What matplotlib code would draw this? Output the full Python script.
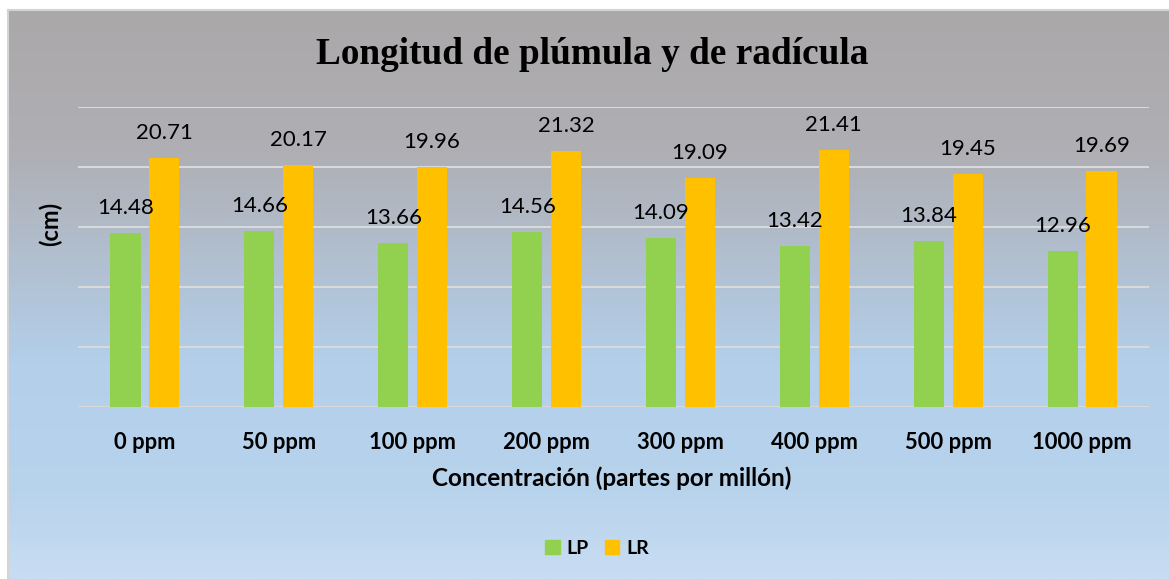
import numpy as np
import matplotlib.pyplot as plt
from matplotlib.colors import LinearSegmentedColormap
from matplotlib.patches import Patch

# data
categories = ["0 ppm", "50 ppm", "100 ppm", "200 ppm", "300 ppm", "400 ppm", "500 ppm", "1000 ppm"]
lp = [14.48, 14.66, 13.66, 14.56, 14.09, 13.42, 13.84, 12.96]
lr = [20.71, 20.17, 19.96, 21.32, 19.09, 21.41, 19.45, 19.69]

W, H = 1169, 579
fig = plt.figure(figsize=(W / 100, H / 100), dpi=100, facecolor="white")

# gradient chart background (gray on top -> light blue at bottom)
bg = fig.add_axes([8 / W, 0, 1 - 8 / W, (H - 10) / H])
grad = LinearSegmentedColormap.from_list("bg", [
    (0.0, "#aba8a9"),
    (0.25, "#afafb4"),
    (0.62, "#b3cfea"),
    (0.85, "#b8d3ec"),
    (1.0, "#c8ddf2"),
])
bg.imshow(np.linspace(0, 1, 256).reshape(-1, 1), aspect="auto", cmap=grad,
          extent=[0, 1, 0, 1], origin="upper")
bg.set_xticks([])
bg.set_yticks([])
for s in ["top", "left"]:
    bg.spines[s].set_color("#d4d4d4")
    bg.spines[s].set_linewidth(1.5)
for s in ["bottom", "right"]:
    bg.spines[s].set_visible(False)

# main axes
ax = fig.add_axes([78 / W, (H - 407) / H, 1071 / W, 300 / H])
ax.patch.set_alpha(0)
x = np.arange(len(categories))
bw = 0.225
off = 0.145
green = "#92d050"
orange = "#ffc000"
ax.bar(x - off, lp, bw, color=green, zorder=3)
ax.bar(x + off, lr, bw, color=orange, zorder=3)

ax.set_xlim(-0.5, len(categories) - 0.5)
ax.set_ylim(0, 25)
ax.set_yticks(np.arange(0, 26, 5))
ax.yaxis.grid(True, color="#d9d9d9", linewidth=1.5, zorder=0)
ax.tick_params(axis="y", length=0, labelleft=False)
ax.tick_params(axis="x", length=0, pad=18)
ax.set_xticks(x)
ax.set_xticklabels(categories, fontfamily="Lato", fontweight="bold", fontsize=15.8)
for s in ax.spines.values():
    s.set_visible(False)

for xi, v in zip(x - off, lp):
    ax.annotate(f"{v:.2f}", (xi, v), xytext=(0, 18), textcoords="offset points",
                ha="center", va="center", fontfamily="Lato", fontsize=16)
for xi, v in zip(x + off, lr):
    ax.annotate(f"{v:.2f}", (xi, v), xytext=(0, 18), textcoords="offset points",
                ha="center", va="center", fontfamily="Lato", fontsize=16)

# texts
fig.text(592 / W, 1 - 55 / H, "Longitud de plúmula y de radícula", ha="center", va="center",
         fontfamily="Liberation Serif", fontweight="bold", fontsize=26.8)
fig.text(612 / W, 1 - 478 / H, "Concentración (partes por millón)", ha="center", va="center",
         fontfamily="Lato", fontweight="bold", fontsize=17.5)
fig.text(50 / W, 1 - 224 / H, "(cm)", ha="center", va="center", rotation=90,
         fontfamily="Lato", fontweight="bold", fontsize=17)

handles = [Patch(color=green, label="LP"), Patch(color=orange, label="LR")]
fig.legend(handles=handles, loc="center", bbox_to_anchor=(597 / W, 1 - 548 / H), ncol=2,
           frameon=False, handlelength=0.75, handleheight=0.75, handletextpad=0.35,
           columnspacing=0.8, prop={"family": "Lato", "weight": "bold", "size": 14})

fig.savefig("out.png", dpi=100, facecolor="white")
